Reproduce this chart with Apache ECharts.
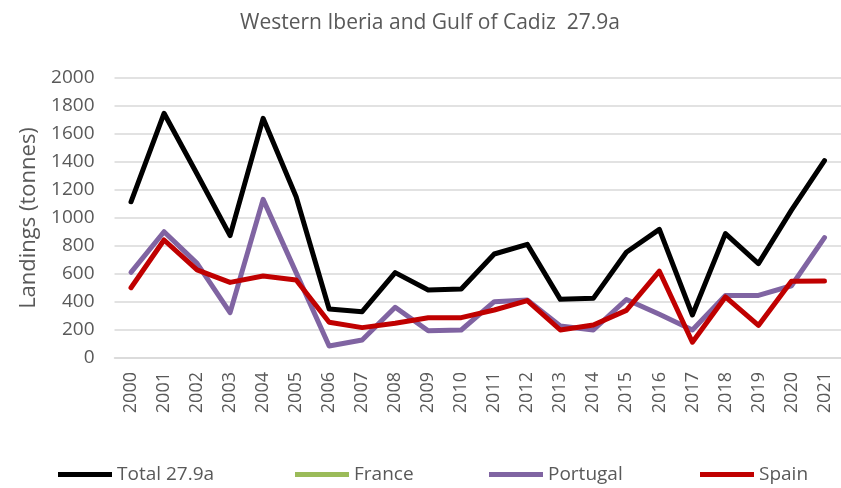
<!DOCTYPE html>
<html>
<head>
<meta charset="utf-8">
<script src="https://cdn.jsdelivr.net/npm/echarts@6/dist/echarts.min.js"></script>
<style>
  html, body { margin: 0; padding: 0; background: #fff; }
  #chart { width: 841px; height: 488px; }
</style>
</head>
<body>
<div id="chart"></div>
<script>
// landings by year, tonnes
const years = ['2000', '2001', '2002', '2003', '2004', '2005', '2006', '2007', '2008', '2009', '2010',
  '2011', '2012', '2013', '2014', '2015', '2016', '2017', '2018', '2019', '2020', '2021']
const total = [1116, 1748, 1314, 874, 1712, 1152, 350, 331, 610, 486, 493,
  743, 812, 419, 426, 755, 919, 307, 888, 674, 1056, 1410]
const france = []
const portugal = [612, 902, 676, 324, 1133, 610, 86, 129, 362, 195, 200,
  402, 414, 229, 200, 418, 312, 200, 447, 447, 516, 860]
const spain = [502, 843, 629, 540, 586, 557, 255, 217, 248, 288, 288,
  343, 410, 200, 236, 340, 620, 113, 436, 233, 548, 550]

const textColor = '#595959'
const gridColor = '#d9d9d9'
const font = 'Open Sans'

const names = ['Total 27.9a', 'France', 'Portugal', 'Spain']
const colors = ['#000000', '#9bbb59', '#8064a2', '#c00000']
const values = [total, france, portugal, spain]
const legendLeft = [58, 295, 489, 700]

const chart = echarts.init(document.getElementById('chart'))

const option = {
  animation: false,
  title: {
    text: 'Western Iberia and Gulf of Cadiz  27.9a',
    left: 425,
    top: 8,
    textAlign: 'center',
    textStyle: {
      color: textColor,
      fontFamily: font,
      fontSize: 21,
      fontWeight: 'normal'
    }
  },
  legend: names.map((n, i) => ({
    data: [n],
    left: legendLeft[i],
    top: 465,
    padding: 0,
    icon: 'rect',
    itemWidth: 54,
    itemHeight: 5,
    textStyle: { color: textColor, fontFamily: font, fontSize: 19 }
  })),
  grid: {
    left: 114.5,
    right: -10.5,
    top: 78,
    bottom: 130
  },
  xAxis: {
    type: 'category',
    data: years,
    boundaryGap: true,
    axisLine: { show: true, lineStyle: { color: gridColor, width: 1.5 } },
    axisTick: { show: false },
    axisLabel: {
      rotate: 90,
      interval: 0,
      margin: 14,
      color: textColor,
      fontFamily: font,
      fontSize: 18
    }
  },
  yAxis: {
    type: 'value',
    min: 0,
    max: 2000,
    interval: 200,
    name: 'Landings (tonnes)',
    nameLocation: 'middle',
    nameGap: 72,
    nameTextStyle: { color: textColor, fontFamily: font, fontSize: 22 },
    axisLine: { show: false },
    axisTick: { show: false },
    splitLine: { lineStyle: { color: gridColor, width: 1.5 } },
    axisLabel: {
      margin: 20,
      color: textColor,
      fontFamily: font,
      fontSize: 19,
      formatter: (v) => String(v)
    }
  },
  series: names.map((n, i) => ({
    name: n,
    type: 'line',
    data: values[i],
    symbol: 'none',
    itemStyle: { color: colors[i] },
    lineStyle: { color: colors[i], width: 5, cap: 'round', join: 'round' }
  }))
}

chart.setOption(option)
</script>
</body>
</html>
